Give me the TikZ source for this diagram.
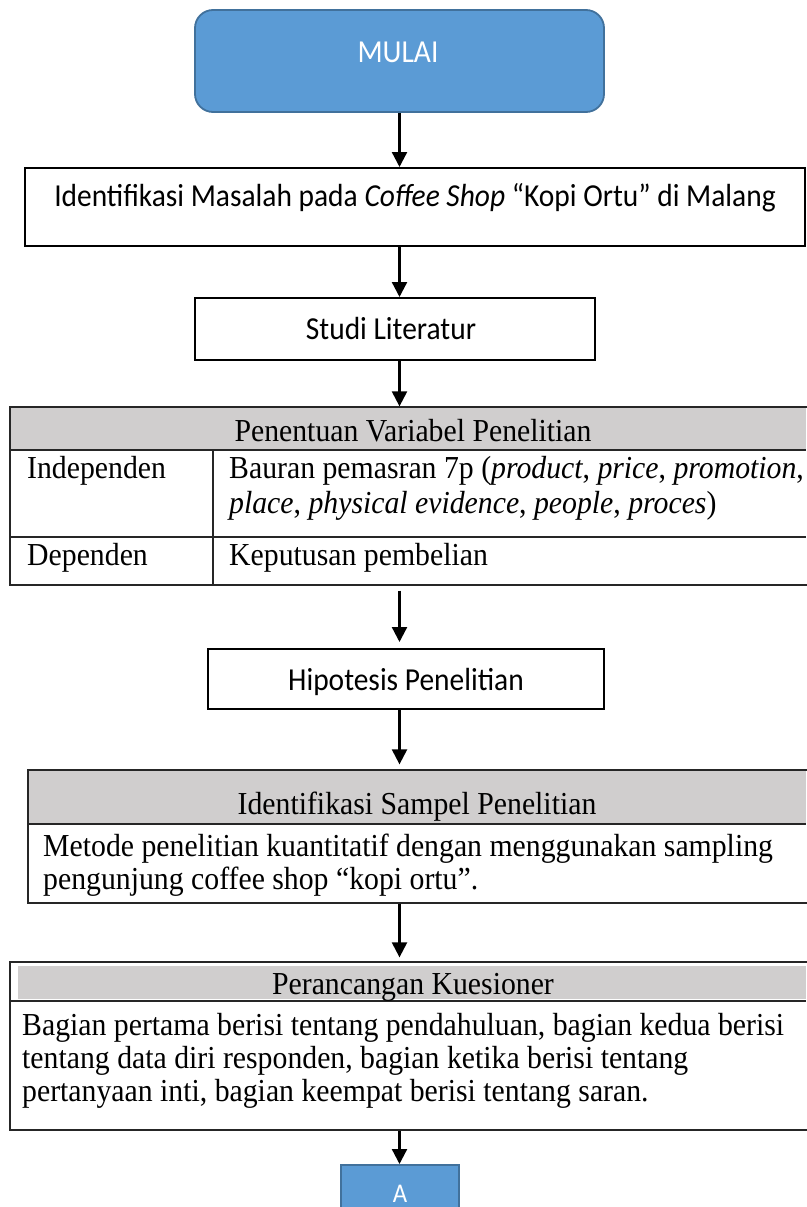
\documentclass[tikz,border=0pt]{standalone}
\usepackage{fontspec}
\setmainfont[FakeStretch=0.93]{Liberation Serif}
\newfontfamily\calibri[FakeStretch=0.92]{Carlito}
\usetikzlibrary{arrows.meta}
\definecolor{boxblue}{HTML}{5B9BD5}
\definecolor{boxblueline}{HTML}{41719C}
\definecolor{headgray}{HTML}{D0CECE}
\begin{document}
\begin{tikzpicture}[x=1pt,y=-1pt,
  arr/.style={line width=2.3pt,-{Triangle[length=15pt,width=15pt]}},
  bluebox/.style={draw=boxblueline,line width=1.8pt,fill=boxblue,inner sep=0pt},
  plainbox/.style={draw=black,line width=2pt,inner sep=0pt},
  tablebox/.style={draw=black!85,line width=1.3pt,inner sep=0pt},
  rule/.style={black!85,line width=1.3pt},
  ctxt/.style={font=\calibri\fontsize{32}{38}\selectfont,inner sep=0pt,anchor=base},
  wtxt/.style={ctxt,text=white},
  ttxt/.style={font=\fontsize{32}{38}\selectfont,inner sep=0pt,anchor=base},
  ltxt/.style={ttxt,anchor=base west}]
\useasboundingbox (0,0) rectangle (806,1207);

% MULAI
\node[bluebox,rounded corners=18pt,minimum width=409pt,minimum height=102pt] (mulai) at (399.5,61) {};
\node[wtxt] (mulaitxt) at (398,63) {MULAI};

% Identifikasi masalah
\node[plainbox,minimum width=780pt,minimum height=78pt] (ident) at (415,207) {};
\node[ctxt] (identtxt) at (415,206) {Identifikasi Masalah pada \textit{Coffee Shop} “Kopi Ortu” di Malang};

% Studi literatur
\node[plainbox,minimum width=400pt,minimum height=62pt] (studi) at (395,329) {};
\node[ctxt] (studitxt) at (391,339) {Studi Literatur};

% Table: Penentuan variabel
\node[tablebox,minimum width=798pt,minimum height=178pt] (tbl) at (409,496) {};
\fill[headgray] (11,408) rectangle (806,450);
\draw[rule] (10,407) -- (806,407);
\draw[rule] (10,450) -- (806,450);
\draw[rule] (10,537) -- (806,537);
\draw[rule] (213,450) -- (213,585);
\node[ttxt] (tblhead) at (413,441) {Penentuan Variabel Penelitian};
\node[ltxt] (indep) at (27,478) {Independen};
\node[ltxt] (baur1) at (229,478) {Bauran pemasran 7p (\textit{product}, \textit{price}, \textit{promotion},};
\node[ltxt] (baur2) at (229,513) {\textit{place}, \textit{physical evidence}, \textit{people}, \textit{proces})};
\node[ltxt] (dep) at (27,565) {Dependen};
\node[ltxt] (keput) at (229,565) {Keputusan pembelian};

% Hipotesis
\node[plainbox,minimum width=396pt,minimum height=60pt] (hipo) at (406,679) {};
\node[ctxt] (hipotxt) at (406,690) {Hipotesis Penelitian};

% Identifikasi sampel
\node[tablebox,minimum width=780pt,minimum height=133pt] (sampel) at (418,836.5) {};
\fill[headgray] (29,771) rectangle (806,824);
\draw[rule] (28,770) -- (806,770);
\draw[rule] (28,824) -- (806,824);
\node[ttxt] (sampelhead) at (417,814) {Identifikasi Sampel Penelitian};
\node[ltxt] (sam1) at (43,856) {Metode penelitian kuantitatif dengan menggunakan sampling};
\node[ltxt] (sam2) at (43,889) {pengunjung coffee shop “kopi ortu”.};

% Perancangan kuesioner
\node[tablebox,minimum width=798pt,minimum height=168pt] (kues) at (409,1046) {};
\fill[headgray] (18,966) rectangle (806,999);
\draw[rule] (10,1001) -- (806,1001);
\node[ttxt] (kueshead) at (413,994) {Perancangan Kuesioner};
\node[ltxt] (k1) at (22,1035) {Bagian pertama berisi tentang pendahuluan, bagian kedua berisi};
\node[ltxt] (k2) at (22,1068) {tentang data diri responden, bagian ketika berisi tentang};
\node[ltxt] (k3) at (22,1101) {pertanyaan inti, bagian keempat berisi tentang saran.};

% A connector
\node[bluebox,minimum width=118pt,minimum height=60pt,anchor=north] (a) at (400,1164) {};
\node[wtxt,font=\calibri\fontsize{27}{32}\selectfont] (atxt) at (400,1202) {A};

% Arrows
\draw[arr] (mulai.south -| mulai.south) -- (ident.north -| mulai.south);
\draw[arr] (ident.south -| mulai.south) -- (studi.north -| mulai.south);
\draw[arr] (studi.south -| mulai.south) -- (tbl.north -| mulai.south);
\draw[arr] ([yshift=-5pt]tbl.south -| mulai.south) -- ([yshift=6pt]hipo.north -| mulai.south);
\draw[arr] (hipo.south -| mulai.south) -- ([yshift=5pt]sampel.north -| mulai.south);
\draw[arr] (sampel.south -| mulai.south) -- ([yshift=4pt]kues.north -| mulai.south);
\draw[arr] (kues.south -| mulai.south) -- (a.north -| mulai.south);
\end{tikzpicture}
\end{document}
